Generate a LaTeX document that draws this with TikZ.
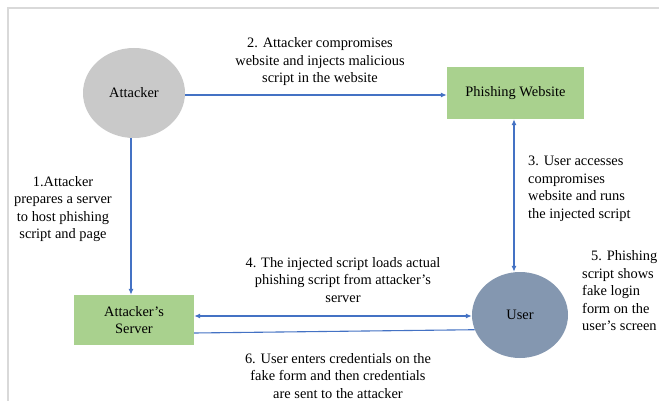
\documentclass[tikz,border=0pt]{standalone}
\usepackage{fontspec}
\setmainfont{Liberation Serif}
\usetikzlibrary{arrows.meta,shapes.geometric}
\definecolor{attgray}{HTML}{C9C9C9}
\definecolor{boxgreen}{HTML}{A9D18E}
\definecolor{usercol}{HTML}{8497B0}
\definecolor{arrblue}{HTML}{4472C4}
\definecolor{framegray}{HTML}{D9D9D9}
\begin{document}
\begin{tikzpicture}[x=1pt,y=-1pt,
  every node/.style={font=\fontsize{14.4}{17.5}\selectfont, text=black, inner sep=0pt},
  gbox/.style={rectangle, fill=boxgreen, align=center},
  conn/.style={draw=arrblue, line width=1.1pt},
  tip/.style={-{Latex[length=6pt,width=5pt]}},
  dtip/.style={{Latex[length=6pt,width=5pt]}-{Latex[length=6pt,width=5pt]}},
  lbl/.style={align=center},
  lbll/.style={align=left, anchor=west}]
\useasboundingbox (0,0) rectangle (659,401);
\fill[white] (0,0) rectangle (659,401);
\draw[framegray, line width=1.5pt] (8,401) -- (8,8) -- (659,8);

\node[ellipse, fill=attgray, minimum width=102pt, minimum height=90pt] (att) at (134,93) {Attacker};
\node[gbox, minimum width=137pt, minimum height=52pt] (pw) at (515.5,93) {Phishing Website};
\node[gbox, minimum width=120pt, minimum height=50pt] (srv) at (134,320) {Attacker’s\\Server};
\node[ellipse, fill=usercol, minimum width=96pt, minimum height=86pt] (user) at (520,315) {User};

\draw[conn, tip] ([yshift=-2pt]att.east) -- ([yshift=-2pt]pw.west);
\draw[conn, tip] ([xshift=-3pt]att.south) -- ([xshift=-3pt]srv.north);
\draw[conn, dtip] ([xshift=-1.5pt]pw.south) -- ([xshift=-6pt]user.north);
\draw[conn, dtip] ([yshift=4pt]srv.east) -- ([yshift=-1pt]user.west);
\draw[conn] ([yshift=-13pt]srv.east) -- (user.198);

\node[lbl] (l1) at (63,209) {1.Attacker\\prepares a server\\to host phishing\\script and page};
\node[lbl] (l2) at (320,62) {2. Attacker compromises\\website and injects malicious\\script in the website};
\node[lbll] (l3) at (528,189) {3. User accesses\\compromises\\website and runs\\the injected script};
\node[lbl] (l4) at (343,280) {4. The injected script loads actual\\phishing script from attacker’s\\server};
\node[lbll] (l5) at (582,291) {\hspace*{9pt}5. Phishing\\script shows\\fake login\\form on the\\user’s screen};
\node[lbl] (l6) at (338,376) {6. User enters credentials on the\\fake form and then credentials\\are sent to the attacker};
\end{tikzpicture}
\end{document}
